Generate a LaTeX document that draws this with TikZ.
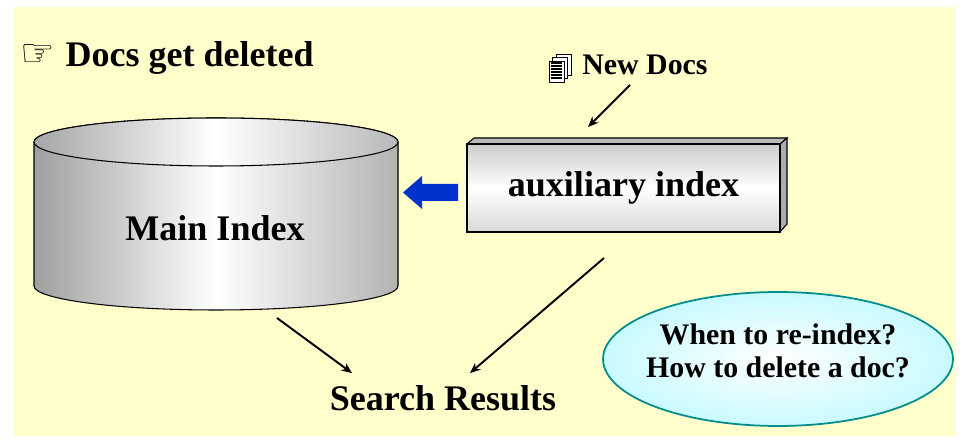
\documentclass[tikz,border=0pt]{standalone}
\usepackage{fontspec}
\setmainfont{Liberation Serif}
\newfontfamily\symfont{DejaVu Sans}
\usetikzlibrary{shapes.geometric, shadings, calc, positioning}
\usetikzlibrary{arrows.meta}
\definecolor{BGYELLOW}{RGB}{255,255,204}
\definecolor{BLOCKBLUE}{RGB}{0,51,204}
\definecolor{RIMTEAL}{RGB}{0,140,140}
\definecolor{PALECYAN}{RGB}{200,250,255}

\tikzset{
  bigtext/.style={font=\bfseries\fontsize{20.5}{24}\selectfont},
  smalltext/.style={font=\bfseries\fontsize{17}{19}\selectfont},
  flow/.style={-{Stealth[length=6pt,width=5pt]}, line width=1.1pt},
}

\begin{document}
\begin{tikzpicture}[x=0.02cm, y=0.02cm]
\useasboundingbox (0,0) rectangle (970,442);
\fill[BGYELLOW] (14,6) rectangle (956,435); % slide background

% title
\node[bigtext, anchor=west, inner sep=0] (title) at (20,384) {{\symfont\fontsize{22}{22}\selectfont ☞}\hspace{6pt}Docs get deleted};

% main index cylinder
\shade[left color=gray!75, right color=gray!60, middle color=white, draw=black, line width=0.6pt]
  (34,300) -- (34,156) arc[start angle=180, end angle=360, x radius=182, y radius=24]
  -- (398,300) arc[start angle=0, end angle=180, x radius=182, y radius=24] -- cycle;
\shade[left color=gray!70, right color=gray!55, middle color=white, draw=black, line width=0.6pt]
  (216,300) ellipse[x radius=182, y radius=24];
\node[bigtext] (mainidx) at (215,214) {Main Index};

% auxiliary index box
\fill[gray!55, draw=black, line width=0.6pt] (467,298) -- (474,304) -- (787,304) -- (780,298) -- cycle;
\fill[gray!65, draw=black, line width=0.6pt] (780,298) -- (787,304) -- (787,218) -- (780,210) -- cycle;
\node[bigtext, draw, line width=0.9pt, minimum width=6.26cm, minimum height=1.76cm,
  top color=gray!40, bottom color=gray!30, middle color=white] (auxidx) at (623.5,254) {auxiliary index};

% block arrow into main index
\fill[BLOCKBLUE] (458,258) -- (422,258) -- (422,266) -- (403,249.5) -- (422,233) -- (422,241) -- (458,241) -- cycle;

% new docs
\node[smalltext, anchor=west, inner sep=0] (newdocs) at (582,377) {New Docs};
\foreach \o in {7,3.5,0}{
  \draw[fill=white, line width=0.5pt] (549+\o,360+\o) rectangle (564+\o,381+\o);
}
\foreach \r in {364,367,...,379}{
  \draw[line width=0.6pt] (551,\r) -- (562,\r);
}
\coordinate (ndstart) at (630,357);
\coordinate (ndend) at (588,315);
\draw[flow] (ndstart) -- (ndend);

% search results
\node[bigtext] (results) at (443,44) {Search Results};
\coordinate (mainout) at (277,124);
\coordinate (auxout) at (604,184);
\draw[flow] (mainout) -- ($(results.north)+(-91,6)$);
\draw[flow] (auxout) -- ($(results.north)+(27,6)$);

% question bubble
\node[ellipse, draw=RIMTEAL, line width=1pt, minimum width=7cm, minimum height=2.68cm,
  inner color=white, outer color=PALECYAN] (question) at (778,83) {};
\node[smalltext, align=center] (qtext) at ($(question.center)+(0,8)$)
  {When to re-index?\\How to delete a doc?};
\end{tikzpicture}
\end{document}
